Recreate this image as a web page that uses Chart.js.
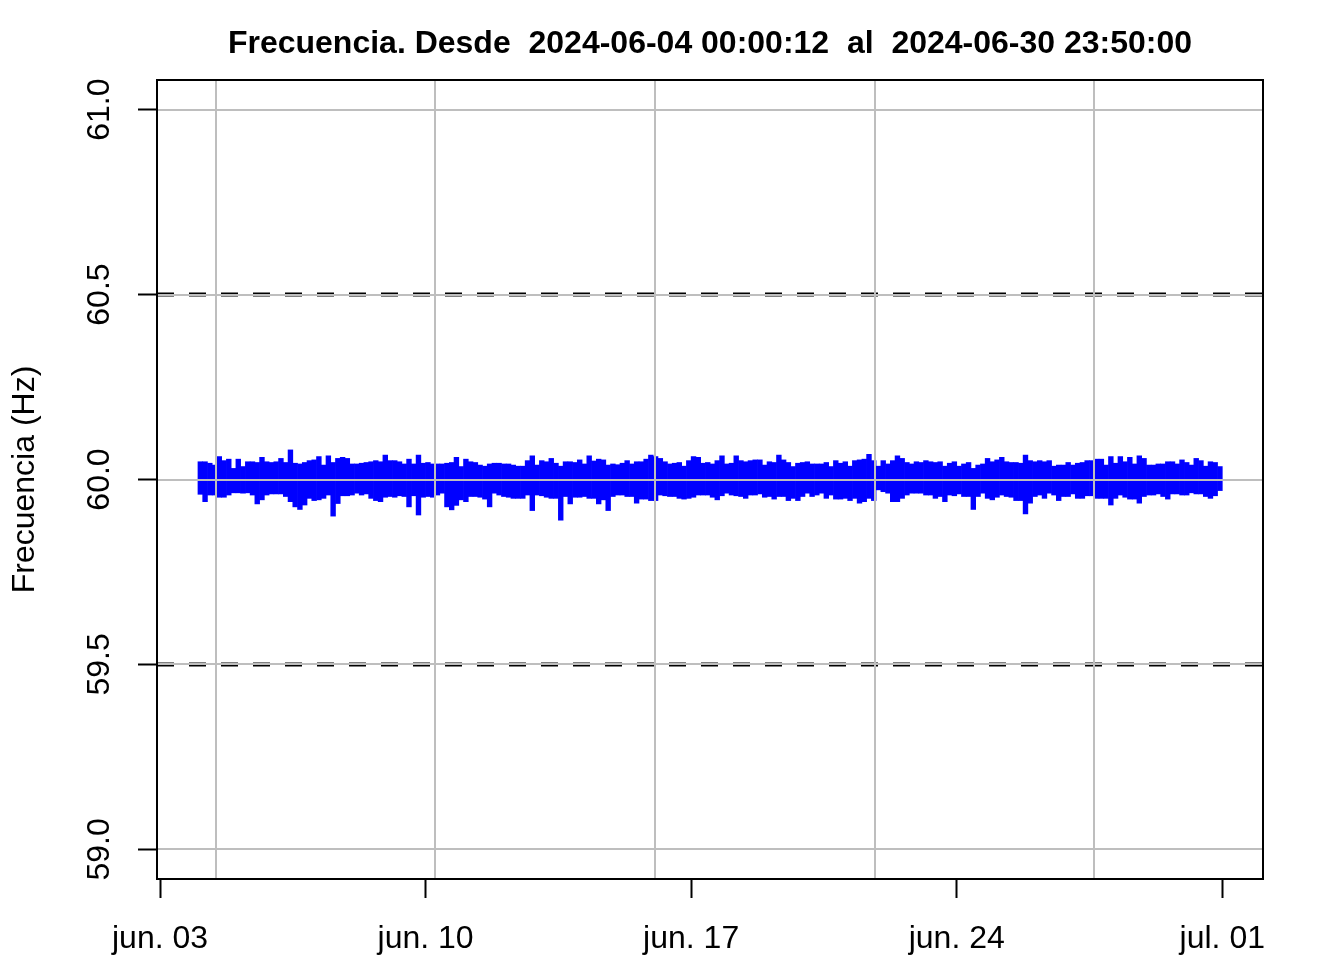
<!DOCTYPE html>
<html>
<head>
<meta charset="utf-8">
<script src="https://cdn.jsdelivr.net/npm/chart.js@4.4.1/dist/chart.umd.min.js"></script>
<style>
  body { margin: 0; background: #fff; }
  #wrap { width: 1344px; height: 960px; }
</style>
</head>
<body>
<div id="wrap"><canvas id="frecuencia"></canvas></div>
<script>
// eje x en dias desde 2024-06-03 00:00 UTC
const tickDays = [0, 7, 14, 21, 28];
const tickLabels = ['jun. 03', 'jun. 10', 'jun. 17', 'jun. 24', 'jul. 01'];
const yTicks = [59.0, 59.5, 60.0, 60.5, 61.0];
const limites = [59.5, 60.5];
const origen = 1717372800;
const gridSeconds = [1717500000, 1718000000, 1718500000, 1719000000, 1719500000];
const desde = 1 + 12 / 86400;          // 2024-06-04 00:00:12
const hasta = 27 + 23 / 24 + 50 / 1440; // 2024-06-30 23:50:00
const primerDia = 1.0625, paso = 0.125; // un tramo cada 3 h

// maximo y minimo de la frecuencia en cada tramo de 3 h (Hz)
const superior = [
  60.048, 60.048, 60.044, 60.039, 60.062, 60.051, 60.055, 60.030, 60.055, 60.035,
  60.048, 60.048, 60.046, 60.060, 60.048, 60.046, 60.048, 60.057, 60.046, 60.080,
  60.044, 60.042, 60.046, 60.051, 60.053, 60.062, 60.039, 60.064, 60.046, 60.057,
  60.060, 60.057, 60.042, 60.042, 60.044, 60.046, 60.048, 60.051, 60.048, 60.066,
  60.051, 60.051, 60.048, 60.042, 60.055, 60.042, 60.066, 60.044, 60.046, 60.042,
  60.042, 60.042, 60.044, 60.046, 60.060, 60.035, 60.055, 60.048, 60.046, 60.039,
  60.036, 60.042, 60.044, 60.044, 60.042, 60.042, 60.039, 60.036, 60.036, 60.051,
  60.064, 60.039, 60.051, 60.048, 60.057, 60.044, 60.036, 60.048, 60.048, 60.046,
  60.053, 60.042, 60.064, 60.050, 60.055, 60.053, 60.039, 60.042, 60.040, 60.044,
  60.051, 60.042, 60.048, 60.048, 60.055, 60.066, 60.062, 60.057, 60.048, 60.042,
  60.044, 60.046, 60.036, 60.051, 60.062, 60.060, 60.044, 60.046, 60.042, 60.051,
  60.064, 60.042, 60.044, 60.064, 60.051, 60.048, 60.051, 60.053, 60.053, 60.039,
  60.048, 60.046, 60.066, 60.053, 60.046, 60.035, 60.044, 60.046, 60.048, 60.042,
  60.042, 60.042, 60.046, 60.035, 60.051, 60.044, 60.048, 60.036, 60.051, 60.053,
  60.055, 60.068, 60.051, 60.036, 60.051, 60.042, 60.051, 60.064, 60.057, 60.046,
  60.042, 60.048, 60.046, 60.051, 60.048, 60.046, 60.048, 60.036, 60.044, 60.048,
  60.036, 60.042, 60.046, 60.030, 60.039, 60.042, 60.057, 60.048, 60.053, 60.060,
  60.048, 60.046, 60.046, 60.044, 60.066, 60.051, 60.048, 60.051, 60.048, 60.051,
  60.036, 60.039, 60.039, 60.046, 60.039, 60.044, 60.046, 60.051, 60.051, 60.055,
  60.055, 60.039, 60.062, 60.044, 60.062, 60.048, 60.060, 60.042, 60.064, 60.057,
  60.039, 60.039, 60.042, 60.042, 60.048, 60.048, 60.042, 60.053, 60.046, 60.039,
  60.057, 60.051, 60.036, 60.048, 60.046, 60.035
];
const inferior = [
  59.960, 59.940, 59.958, 59.958, 59.952, 59.952, 59.958, 59.964, 59.964, 59.963,
  59.964, 59.958, 59.934, 59.945, 59.958, 59.961, 59.961, 59.961, 59.954, 59.940,
  59.926, 59.919, 59.931, 59.949, 59.943, 59.945, 59.949, 59.958, 59.901, 59.935,
  59.956, 59.956, 59.958, 59.963, 59.958, 59.961, 59.949, 59.943, 59.940, 59.952,
  59.954, 59.952, 59.956, 59.954, 59.926, 59.956, 59.904, 59.952, 59.954, 59.952,
  59.958, 59.963, 59.926, 59.918, 59.930, 59.945, 59.940, 59.954, 59.954, 59.952,
  59.947, 59.926, 59.963, 59.958, 59.954, 59.952, 59.949, 59.949, 59.949, 59.958,
  59.916, 59.958, 59.956, 59.952, 59.949, 59.949, 59.890, 59.954, 59.934, 59.952,
  59.952, 59.954, 59.949, 59.949, 59.934, 59.945, 59.916, 59.954, 59.958, 59.958,
  59.954, 59.954, 59.936, 59.947, 59.947, 59.943, 59.943, 59.958, 59.956, 59.954,
  59.954, 59.949, 59.947, 59.949, 59.952, 59.958, 59.958, 59.958, 59.952, 59.945,
  59.956, 59.963, 59.958, 59.956, 59.954, 59.949, 59.958, 59.958, 59.961, 59.952,
  59.954, 59.947, 59.954, 59.954, 59.943, 59.949, 59.943, 59.954, 59.963, 59.954,
  59.958, 59.963, 59.949, 59.958, 59.947, 59.947, 59.949, 59.943, 59.949, 59.936,
  59.940, 59.949, 59.943, 59.972, 59.967, 59.963, 59.940, 59.940, 59.949, 59.958,
  59.963, 59.963, 59.963, 59.958, 59.958, 59.949, 59.954, 59.940, 59.958, 59.956,
  59.961, 59.954, 59.954, 59.919, 59.954, 59.963, 59.949, 59.945, 59.952, 59.958,
  59.954, 59.952, 59.943, 59.943, 59.907, 59.936, 59.954, 59.958, 59.949, 59.963,
  59.958, 59.943, 59.954, 59.954, 59.961, 59.949, 59.949, 59.956, 59.956, 59.949,
  59.949, 59.949, 59.931, 59.949, 59.958, 59.952, 59.947, 59.947, 59.936, 59.954,
  59.958, 59.958, 59.961, 59.954, 59.947, 59.961, 59.961, 59.958, 59.958, 59.964,
  59.961, 59.961, 59.954, 59.949, 59.956, 59.970
];

Chart.defaults.font.family = '"Liberation Sans", Arial, sans-serif';
Chart.defaults.color = '#000';

// rejilla gris, lineas de limite y marco, encima de los datos como en R
const marco = {
    id: 'marco',
    afterLayout(chart) {
        // titulo centrado sobre el area del grafico
        chart.titleBlock.left = chart.chartArea.left;
        chart.titleBlock.right = chart.chartArea.right;
    },
    afterDatasetsDraw(chart) {
        const {ctx, chartArea: a, scales: {x, y}} = chart;
        ctx.save();
        ctx.beginPath();
        ctx.rect(a.left, a.top, a.right - a.left, a.bottom - a.top);
        ctx.clip();
        ctx.strokeStyle = '#000';
        ctx.lineWidth = 4;
        ctx.setLineDash([17, 15]);
        limites.forEach(v => {
            const py = y.getPixelForValue(v);
            ctx.beginPath(); ctx.moveTo(a.left, py); ctx.lineTo(a.right, py); ctx.stroke();
        });
        ctx.setLineDash([]);
        ctx.strokeStyle = '#bebebe';
        ctx.lineWidth = 2;
        gridSeconds.forEach(s => {
            const px = Math.round(x.getPixelForValue((s - origen) / 86400));
            ctx.beginPath(); ctx.moveTo(px, a.top); ctx.lineTo(px, a.bottom); ctx.stroke();
        });
        yTicks.forEach(v => {
            const py = Math.round(y.getPixelForValue(v));
            ctx.beginPath(); ctx.moveTo(a.left, py); ctx.lineTo(a.right, py); ctx.stroke();
        });
        ctx.restore();
        ctx.save();
        ctx.strokeStyle = '#000';
        ctx.lineWidth = 2;
        ctx.strokeRect(a.left, a.top, a.right - a.left, a.bottom - a.top);
        ctx.restore();
    }
};

const rango = hasta - desde;

new Chart(document.getElementById('frecuencia'), {
    type: 'bar',
    data: {
        datasets: [{
            data: superior.map((v, i) => ({x: primerDia + i * paso, y: [inferior[i], v]})),
            backgroundColor: '#0000ff',
            borderWidth: 0,
            barPercentage: 1,
            categoryPercentage: 1
        }]
    },
    options: {
        responsive: true,
        maintainAspectRatio: false,
        animation: false,
        layout: {padding: {left: 0, right: 81, top: 0, bottom: 0}},
        plugins: {
            legend: {display: false},
            tooltip: {enabled: false},
            title: {
                display: true,
                text: 'Frecuencia. Desde  2024-06-04 00:00:12  al  2024-06-30 23:50:00',
                color: '#000',
                font: {size: 32, weight: 'bold', lineHeight: 1.2},
                padding: {top: 24.8, bottom: 16.8}
            }
        },
        scales: {
            x: {
                type: 'linear',
                min: desde - 0.04 * rango,
                max: hasta + 0.04 * rango,
                offset: false,
                afterBuildTicks: s => { s.ticks = tickDays.map(v => ({value: v})); },
                afterFit: s => { s.height = 81; },
                grid: {display: true, drawOnChartArea: false, drawTicks: true, tickLength: 19,
                       tickColor: '#000', tickWidth: 2, offset: false},
                border: {display: false},
                ticks: {autoSkip: false, maxRotation: 0, padding: 22, font: {size: 32},
                        callback: (v, i) => tickLabels[i]}
            },
            y: {
                min: 59 - 0.04 * 2,
                max: 61 + 0.04 * 2,
                afterBuildTicks: s => { s.ticks = yTicks.map(v => ({value: v})); },
                afterFit: s => { s.width = 157; },
                grid: {display: true, drawOnChartArea: false, drawTicks: true, tickLength: 19,
                       tickColor: '#000', tickWidth: 2},
                border: {display: false},
                title: {display: true, text: 'Frecuencia (Hz)', font: {size: 32}, padding: {top: 5.8}},
                ticks: {autoSkip: false, minRotation: 90, maxRotation: 90, crossAlign: 'center',
                        padding: 7, font: {size: 32}, callback: v => v.toFixed(1)}
            }
        }
    },
    plugins: [marco]
});
</script>
</body>
</html>
